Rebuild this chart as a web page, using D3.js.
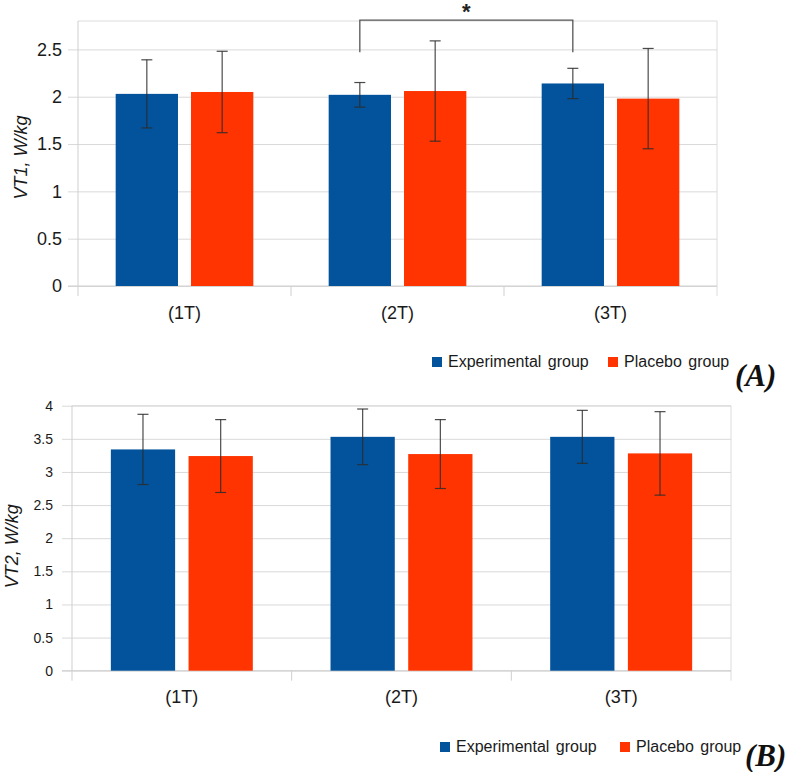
<!DOCTYPE html>
<html>
<head>
<meta charset="utf-8">
<script src="https://cdn.jsdelivr.net/npm/d3@7"></script>
<style>
  body { margin: 0; background: #fff; }
  svg { display: block; font-family: "Liberation Sans", Arial, sans-serif; }
</style>
</head>
<body>
<svg id="chart" width="787" height="772"></svg>
<script>
const categories = ["(1T)", "(2T)", "(3T)"];
const groups = ["Experimental group", "Placebo group"];
const groupColors = ["#02539b", "#ff3400"];

// panel A: VT1 (mean and SD)
const vt1Experimental = [2.03, 2.02, 2.14];
const vt1ExperimentalSd = [0.36, 0.13, 0.16];
const vt1Placebo = [2.05, 2.06, 1.98];
const vt1PlaceboSd = [0.43, 0.53, 0.53];
const vt1Ticks = [0, 0.5, 1, 1.5, 2, 2.5];

// panel B: VT2 (mean and SD)
const vt2Experimental = [3.34, 3.53, 3.53];
const vt2ExperimentalSd = [0.53, 0.42, 0.40];
const vt2Placebo = [3.24, 3.27, 3.28];
const vt2PlaceboSd = [0.55, 0.52, 0.63];
const vt2Ticks = [0, 0.5, 1, 1.5, 2, 2.5, 3, 3.5, 4];

// significance bracket in panel A, between experimental bars
const sigPair = ["(2T)", "(3T)"];
const sigLevel = [2.47, 2.81];

let svg = d3.select("#chart");

function drawPanel(o) {
  let g = svg.append("g").attr("transform", `translate(${o.left}, ${o.top})`);

  let x0 = d3.scaleBand().domain(categories).range([0, o.width]);
  let x1 = d3.scaleBand()
    .domain(groups)
    .range([0, x0.bandwidth()])
    .paddingInner(0.173)
    .paddingOuter(0.5);
  let y = d3.scaleLinear().domain([0, o.yMax]).range([o.height, 0]);

  // Y axis + gridlines
  let yAxis = g.append("g")
    .call(d3.axisLeft(y)
      .tickValues(o.ticks)
      .tickSize(-o.width)
      .tickPadding(o.tickPad)
      .tickFormat(d3.format("~g")));
  yAxis.select(".domain").remove();
  yAxis.selectAll("line").attr("x1", -10).attr("stroke", "#d9d9d9");
  yAxis.selectAll("text")
    .attr("font-size", o.tickFont)
    .attr("font-family", "Liberation Sans, Arial, sans-serif")
    .attr("fill", "#1a1a1a");

  // frame
  g.append("line").attr("x1", 0).attr("x2", o.width).attr("y1", 0).attr("y2", 0)
    .attr("stroke", "#dcdcdc");
  g.append("line").attr("x1", o.width).attr("x2", o.width).attr("y1", 0).attr("y2", o.height + 10)
    .attr("stroke", "#dcdcdc");
  g.append("line").attr("x1", 0).attr("x2", 0).attr("y1", 0).attr("y2", o.height + 10)
    .attr("stroke", "#cfcfcf");
  g.append("line").attr("x1", -10).attr("x2", o.width).attr("y1", o.height).attr("y2", o.height)
    .attr("stroke", "#cfcfcf");

  // category separators
  g.selectAll(".sep")
    .data(categories.slice(1))
    .join("line")
    .attr("class", "sep")
    .attr("x1", d => x0(d)).attr("x2", d => x0(d))
    .attr("y1", o.height).attr("y2", o.height + 10)
    .attr("stroke", "#cfcfcf");

  // X labels
  let xAxis = g.append("g")
    .attr("transform", `translate(0, ${o.height})`)
    .call(d3.axisBottom(x0).tickSize(0).tickPadding(0));
  xAxis.select(".domain").remove();
  xAxis.selectAll("text")
    .attr("dy", null)
    .attr("y", o.catLabelY)
    .attr("font-size", 18)
    .attr("font-family", "Liberation Sans, Arial, sans-serif")
    .attr("fill", "#1a1a1a");

  let rows = [];
  categories.forEach(function (c, i) {
    groups.forEach(function (grp, j) {
      rows.push({ cat: c, group: grp, value: o.means[j][i], sd: o.sds[j][i], color: groupColors[j] });
    });
  });

  g.selectAll(".bar")
    .data(rows)
    .join("rect")
    .attr("class", "bar")
    .attr("x", d => x0(d.cat) + x1(d.group))
    .attr("y", d => y(d.value))
    .attr("width", x1.bandwidth())
    .attr("height", d => o.height - y(d.value))
    .attr("fill", d => d.color);

  // error bars
  let err = g.selectAll(".err")
    .data(rows)
    .join("g")
    .attr("class", "err")
    .attr("transform", d => `translate(${x0(d.cat) + x1(d.group) + x1.bandwidth() / 2}, 0)`)
    .attr("stroke", "#2b2b2b")
    .attr("stroke-opacity", 0.85)
    .attr("stroke-width", 1.2);
  err.append("line")
    .attr("x1", 0).attr("x2", 0)
    .attr("y1", d => y(d.value + d.sd))
    .attr("y2", d => y(d.value - d.sd));
  err.append("line")
    .attr("x1", -5.5).attr("x2", 5.5)
    .attr("y1", d => y(d.value + d.sd))
    .attr("y2", d => y(d.value + d.sd));
  err.append("line")
    .attr("x1", -5.5).attr("x2", 5.5)
    .attr("y1", d => y(d.value - d.sd))
    .attr("y2", d => y(d.value - d.sd));

  // y label
  g.append("text")
    .attr("transform", `translate(${o.yLabelX}, ${o.height / 2 + o.yLabelShift}) rotate(-90)`)
    .attr("text-anchor", "middle")
    .attr("font-size", o.yLabelFont)
    .attr("font-style", "italic")
    .attr("fill", "#1a1a1a")
    .text(o.yLabel);

  // legend
  let leg = svg.append("g");
  groups.forEach(function (grp, j) {
    leg.append("rect")
      .attr("x", o.legendX[j]).attr("y", o.legendY - 10)
      .attr("width", 10).attr("height", 10)
      .attr("fill", groupColors[j]);
    leg.append("text")
      .attr("x", o.legendX[j] + 16).attr("y", o.legendY)
      .attr("font-size", 16)
      .attr("word-spacing", 2)
      .attr("fill", "#1a1a1a")
      .text(grp);
  });

  svg.append("text")
    .attr("x", o.panelX).attr("y", o.panelY)
    .attr("font-family", "Liberation Serif, Times New Roman, serif")
    .attr("font-weight", "bold")
    .attr("font-style", "italic")
    .attr("font-size", 31)
    .attr("fill", "#111")
    .text(o.panel);

  return { g: g, x0: x0, x1: x1, y: y };
}

let a = drawPanel({
  left: 78, top: 21, width: 639, height: 265, yMax: 2.8,
  ticks: vt1Ticks, tickFont: 18, tickPad: 16,
  means: [vt1Experimental, vt1Placebo], sds: [vt1ExperimentalSd, vt1PlaceboSd],
  catLabelY: 33, yLabel: "VT1, W/kg", yLabelX: -51, yLabelShift: 4, yLabelFont: 18,
  legendX: [432, 608], legendY: 367, panel: "(A)", panelX: 735, panelY: 386
});

let b = drawPanel({
  left: 72, top: 405.7, width: 659, height: 265, yMax: 4,
  ticks: vt2Ticks, tickFont: 14, tickPad: 19,
  means: [vt2Experimental, vt2Placebo], sds: [vt2ExperimentalSd, vt2PlaceboSd],
  catLabelY: 32, yLabel: "VT2, W/kg", yLabelX: -54, yLabelShift: 8, yLabelFont: 18,
  legendX: [440, 620], legendY: 752, panel: "(B)", panelX: 745, panelY: 766
});

// significance bracket
let bx = c => a.x0(c) + a.x1(groups[0]) + a.x1.bandwidth() / 2;
a.g.append("path")
  .attr("d", d3.line()([
    [bx(sigPair[0]), a.y(sigLevel[0])],
    [bx(sigPair[0]), a.y(sigLevel[1])],
    [bx(sigPair[1]), a.y(sigLevel[1])],
    [bx(sigPair[1]), a.y(sigLevel[0])]
  ]))
  .attr("fill", "none")
  .attr("stroke", "#555")
  .attr("stroke-width", 1.3);
a.g.append("text")
  .attr("x", (bx(sigPair[0]) + bx(sigPair[1])) / 2)
  .attr("y", a.y(sigLevel[1]) - 1)
  .attr("text-anchor", "middle")
  .attr("font-size", 22)
  .attr("font-weight", "bold")
  .attr("fill", "#222")
  .text("*");
</script>
</body>
</html>
